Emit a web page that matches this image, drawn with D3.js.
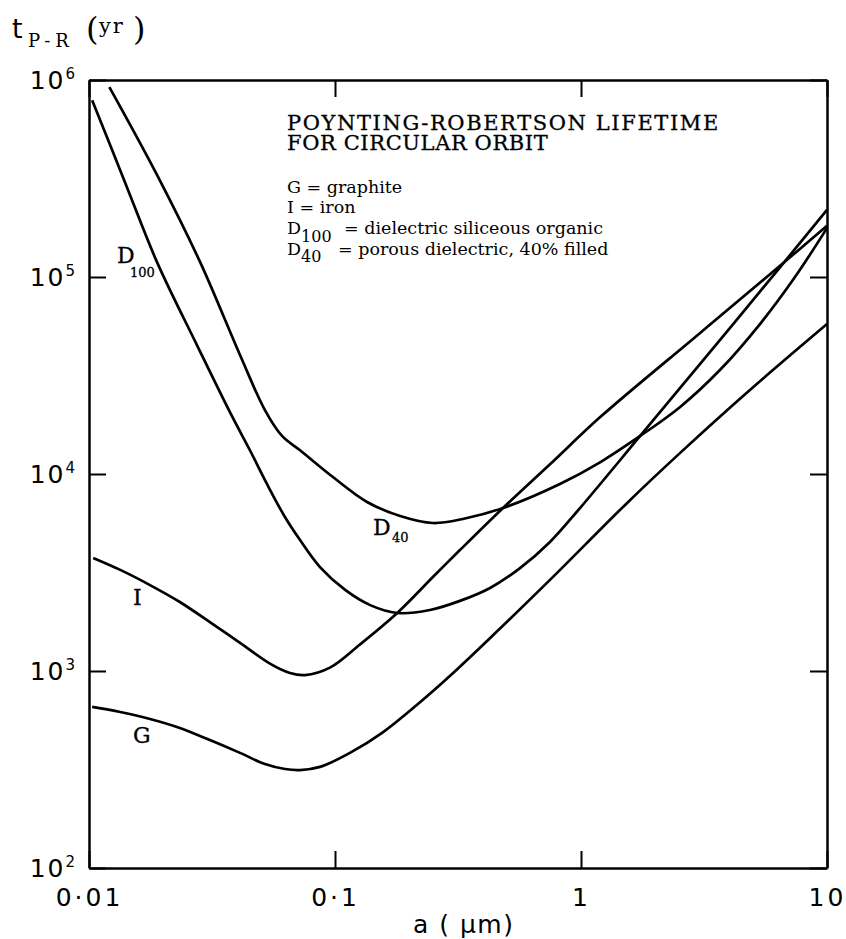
<!DOCTYPE html>
<html>
<head>
<meta charset="utf-8">
<script src="https://cdn.jsdelivr.net/npm/d3@7"></script>
<style>
  body { margin: 0; background: #fff; }
  .axis path, .axis line { stroke: #000; }
  .serif { font-family: "DejaVu Serif", serif; }
  .sans { font-family: "DejaVu Sans", sans-serif; }
</style>
</head>
<body>
<script>
// grain radius a (um) and Poynting-Robertson lifetime t (yr)
var graphiteA = [0.0103, 0.0134, 0.0177, 0.0234, 0.031, 0.0411, 0.0519, 0.0626, 0.0721, 0.0869, 0.115, 0.157, 0.215, 0.293, 0.415, 0.748, 1.54, 2.53, 4.86, 10];
var graphiteT = [657, 619, 571, 514, 446, 384, 337, 318, 314, 326, 384, 490, 672, 943, 1420, 2900, 7130, 12800, 26700, 57700];

var ironA = [0.0104, 0.0134, 0.0177, 0.0234, 0.031, 0.0411, 0.0544, 0.0656, 0.0755, 0.0954, 0.126, 0.179, 0.25, 0.322, 0.482, 0.748, 1.2, 3.05, 6.44, 10];
var ironT = [3750, 3260, 2730, 2240, 1770, 1390, 1090, 977, 954, 1040, 1360, 1970, 3000, 4110, 6720, 11200, 19500, 52000, 114000, 182000];

var d100A = [0.0103, 0.014, 0.0189, 0.0275, 0.0374, 0.0451, 0.0529, 0.0626, 0.0721, 0.0869, 0.110, 0.139, 0.179, 0.243, 0.322, 0.427, 0.565, 0.748, 0.991, 1.74, 3.05, 6.44, 10];
var d100T = [790000, 303000, 119000, 45000, 20600, 13200, 8900, 6050, 4620, 3370, 2580, 2160, 1970, 2040, 2270, 2640, 3330, 4520, 6720, 15600, 36200, 112000, 219000];

var d40A = [0.0121, 0.0189, 0.0283, 0.0411, 0.0519, 0.0609, 0.0721, 0.0981, 0.135, 0.184, 0.25, 0.331, 0.482, 0.821, 1.2, 1.74, 2.53, 3.67, 5.34, 7.41, 10];
var d40T = [921000, 330000, 119000, 40200, 21100, 15600, 13200, 9650, 7210, 6120, 5640, 5910, 6720, 8900, 11500, 15600, 21900, 33700, 57700, 100000, 177000];

// axis ticks
var xTicks = [0.01, 0.1, 1, 10];
var xTickLabels = ["0·01", "0·1", "1", "10"];
var yTicks = [1e2, 1e3, 1e4, 1e5, 1e6];
var yTickExp = ["2", "3", "4", "5", "6"];

var legendLines = ["G = graphite", "I = iron"];

var svg = d3.select("body").append("svg")
    .attr("width", 846)
    .attr("height", 939);

// plot frame: left 89, right 827, top 80, bottom 868
var x = d3.scaleLog().domain([0.01, 10]).range([89, 827]);
var y = d3.scaleLog().domain([1e2, 1e6]).range([868, 80]);

// bottom axis with labels, ticks point inward
var bottom = svg.append("g")
    .attr("class", "axis")
    .attr("transform", "translate(0,868)")
    .call(d3.axisBottom(x).tickValues(xTicks).tickSize(-17).tickSizeOuter(0)
      .tickPadding(20).tickFormat(function(d, i) { return xTickLabels[i]; }));
bottom.selectAll("text")
    .attr("class", "sans")
    .attr("font-size", 25)
    .attr("letter-spacing", 3)
    .attr("fill", "#000");

// top axis, ticks only
svg.append("g")
    .attr("class", "axis")
    .attr("transform", "translate(0,80)")
    .call(d3.axisTop(x).tickValues(xTicks).tickSize(-17).tickSizeOuter(0).tickFormat(""));

// left axis with 10^n labels
var left = svg.append("g")
    .attr("class", "axis")
    .attr("transform", "translate(89,0)")
    .call(d3.axisLeft(y).tickValues(yTicks).tickSize(-17).tickSizeOuter(0)
      .tickPadding(14).tickFormat(""));
left.selectAll(".tick text").each(function(d, i) {
  var t = d3.select(this)
      .attr("class", "sans")
      .attr("font-size", 25)
      .attr("fill", "#000");
  t.append("tspan").attr("letter-spacing", 2).text("10");
  t.append("tspan").attr("dy", -10).attr("font-size", 15).text(yTickExp[i]);
});

// right axis, ticks only
svg.append("g")
    .attr("class", "axis")
    .attr("transform", "translate(827,0)")
    .call(d3.axisRight(y).tickValues(yTicks).tickSize(-17).tickSizeOuter(0).tickFormat(""));

svg.selectAll(".axis path").attr("stroke-width", 2.5);
svg.selectAll(".axis line").attr("stroke-width", 2);

// curves
var line = d3.line()
    .x(function(d) { return x(d[0]); })
    .y(function(d) { return y(d[1]); })
    .curve(d3.curveCatmullRom.alpha(0.5));

var series = [
  d3.zip(graphiteA, graphiteT),
  d3.zip(ironA, ironT),
  d3.zip(d100A, d100T),
  d3.zip(d40A, d40T)
];

svg.selectAll(".curve")
    .data(series)
  .enter().append("path")
    .attr("class", "curve")
    .attr("d", line)
    .attr("fill", "none")
    .attr("stroke", "#000")
    .attr("stroke-width", 2.7)
    .attr("stroke-linejoin", "round");

// curve labels
var lab = svg.append("g").attr("class", "serif").attr("fill", "#000")
    .attr("stroke", "#000").attr("stroke-width", 0.3);
lab.append("text").attr("x", 117).attr("y", 263).attr("font-size", 22).text("D");
lab.append("text").attr("x", 130).attr("y", 277).attr("font-size", 13).text("100");
lab.append("text").attr("x", 373).attr("y", 535).attr("font-size", 22).text("D");
lab.append("text").attr("x", 392).attr("y", 542).attr("font-size", 13).text("40");
lab.append("text").attr("x", 133).attr("y", 605).attr("font-size", 22).text("I");
lab.append("text").attr("x", 133).attr("y", 743).attr("font-size", 22).text("G");

// title and key
var key = svg.append("g").attr("class", "serif").attr("fill", "#000");
key.append("text").attr("x", 287).attr("y", 130).attr("font-size", 21)
    .attr("letter-spacing", 1.6).attr("stroke", "#000").attr("stroke-width", 0.3)
    .text("POYNTING-ROBERTSON LIFETIME");
key.append("text").attr("x", 287).attr("y", 150).attr("font-size", 21)
    .attr("letter-spacing", 0.6).attr("stroke", "#000").attr("stroke-width", 0.3)
    .text("FOR CIRCULAR ORBIT");

legendLines.forEach(function(s, i) {
  key.append("text").attr("x", 287).attr("y", 193 + i * 20).attr("font-size", 17.5).text(s);
});
var l3 = key.append("text").attr("x", 287).attr("y", 234).attr("font-size", 17.5);
l3.append("tspan").text("D");
l3.append("tspan").attr("dy", 8).attr("font-size", 16).text("100");
l3.append("tspan").attr("x", 344).attr("dy", -8).text("= dielectric siliceous organic");
var l4 = key.append("text").attr("x", 287).attr("y", 255).attr("font-size", 17.5);
l4.append("tspan").text("D");
l4.append("tspan").attr("dy", 7).attr("font-size", 16).text("40");
l4.append("tspan").attr("x", 338).attr("dy", -7).text("= porous dielectric, 40% filled");

// y axis title: t_(P-R) (yr)
var yt = svg.append("g").attr("fill", "#000");
yt.append("text").attr("class", "sans").attr("x", 12).attr("y", 38).attr("font-size", 27).text("t");
yt.append("text").attr("class", "serif").attr("x", 28).attr("y", 47).attr("font-size", 18)
    .attr("letter-spacing", 5).text("P-R");
yt.append("text").attr("class", "serif").attr("x", 86).attr("y", 40).attr("font-size", 32).text("(");
yt.append("text").attr("class", "serif").attr("x", 99).attr("y", 33).attr("font-size", 21)
    .attr("letter-spacing", 2).text("yr");
yt.append("text").attr("class", "serif").attr("x", 133).attr("y", 40).attr("font-size", 32).text(")");

// x axis title
svg.append("text")
    .attr("class", "sans")
    .attr("x", 413).attr("y", 933)
    .attr("font-size", 25)
    .attr("letter-spacing", 1.5)
    .attr("fill", "#000")
    .text("a ( μm)");
</script>
</body>
</html>
